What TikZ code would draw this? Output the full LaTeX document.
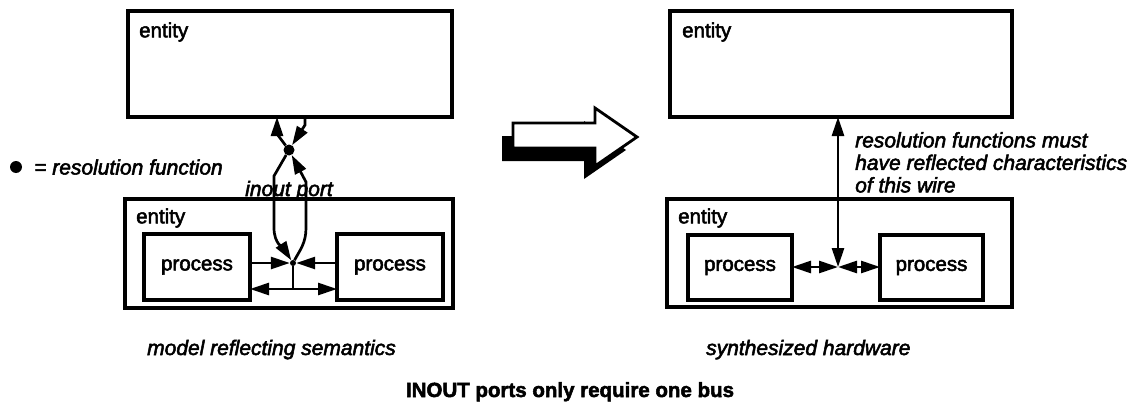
\documentclass[tikz,border=0pt]{standalone}
\usepackage{fontspec}
\setmainfont{Liberation Sans}[FakeBold=2.5]
\usetikzlibrary{arrows.meta}
\begin{document}
\begin{tikzpicture}[x=1pt,y=-1pt,
  box/.style={draw, line width=3.1pt, inner sep=0pt, outer sep=0pt},
  lbl/.style={font=\fontsize{20.5}{22}\selectfont, inner sep=0pt},
  note/.style={font=\fontsize{21}{22.5}\selectfont\itshape, inner sep=0pt, align=left},
  wire/.style={line width=2.7pt},
  tipend/.style={-{Triangle[length=19pt,width=12pt]}},
  tipboth/.style={{Triangle[length=19pt,width=12pt]}-{Triangle[length=19pt,width=12pt]}},
  resdot/.style={circle, fill, inner sep=0pt, minimum size=#1},
]
\useasboundingbox (0,0) rectangle (1139,409);

% ---------- left: model reflecting semantics ----------
\node[box, minimum width=324pt, minimum height=106pt, anchor=north west] (lTop) at (128,11) {};
\node[lbl, anchor=west] (lTopLbl) at (139,32) {entity};
\node[box, minimum width=328pt, minimum height=109pt, anchor=north west] (lBot) at (125,199) {};
\node[lbl, anchor=west] (lBotLbl) at (136,218) {entity};
\node[box, minimum width=106pt, minimum height=66pt, anchor=north west] (lp) at (144,234) {};
\node[lbl] (lpLbl) at (lp) {process};
\node[box, minimum width=106pt, minimum height=66pt, anchor=north west] (rp) at (337,234) {};
\node[lbl] (rpLbl) at (rp) {process};

% resolution points
\node[resdot=6pt] (j1) at (293,263) {};
\node[resdot=11pt] (x1) at (289,150) {};

% process outputs into the resolution point
\draw[wire, tipend] (lp.east |- j1) -- (j1);
\draw[wire, tipend] (rp.west |- j1) -- (j1);
% resolved value fed back to both processes
\coordinate (b1) at (293,289);
\draw[wire] (j1) -- (b1);
\draw[wire, tipend] (b1) -- (lp.east |- b1);
\draw[wire, tipend] (b1) -- (rp.west |- b1);

% the inout port: two directions between entities
\coordinate (t1) at (277,134);
\coordinate (t2) at (305,125);
\draw[wire, tipend] (x1) -- (t1) -- (t1 |- lTop.south);
\draw[wire, tipend] (t2 |- lTop.south) -- (t2) -- (x1);
\coordinate (pl1) at (274,176);
\coordinate (pl2) at (274,228);
\draw[wire, tipend] (x1) -- (pl1) -- (pl2) .. controls (274,244) and (284,249) .. (j1);
\coordinate (pr1) at (306,182);
\coordinate (pr2) at (306,228);
\draw[wire, tipend] (j1) .. controls (300,250) and (306,243) .. (pr2) -- (pr1) -- (x1);
\node[note, anchor=base] (portLbl) at (289,196) {inout port};

% legend
\node[resdot=12pt] (legDot) at (16,167) {};
\node[note, anchor=west] (legLbl) at (34,167) {= resolution function};

% ---------- transformation arrow with shadow ----------
\begin{scope}[shift={(-11,13)}]
  \fill (513,123) -- (595,123) -- (595,108) -- (637,137) -- (595,166) -- (595,148) -- (513,148) -- cycle;
\end{scope}
\filldraw[fill=white, line width=2.8pt, line join=miter]
  (513,123) -- (595,123) -- (595,108) -- (637,137) -- (595,166) -- (595,148) -- (513,148) -- cycle;

% ---------- right: synthesized hardware ----------
\node[box, minimum width=342pt, minimum height=106pt, anchor=north west] (rTop) at (670,11) {};
\node[lbl, anchor=west] (rTopLbl) at (682,32) {entity};
\node[box, minimum width=345pt, minimum height=108pt, anchor=north west] (rBot) at (667,199) {};
\node[lbl, anchor=west] (rBotLbl) at (678,218) {entity};
\node[box, minimum width=104pt, minimum height=65pt, anchor=north west] (lp2) at (688,235) {};
\node[lbl] (lp2Lbl) at (lp2) {process};
\node[box, minimum width=103pt, minimum height=65pt, anchor=north west] (rp2) at (880,235) {};
\node[lbl] (rp2Lbl) at (rp2) {process};

\coordinate (j2) at (838,267);
\draw[wire, tipboth] (j2 |- rTop.south) -- (j2);
\draw[wire, tipboth] (lp2.east |- j2) -- (j2);
\draw[wire, tipboth] (j2) -- (rp2.west |- j2);
\node[note, anchor=north west] (wireLbl) at (855,132)
  {resolution functions must\\have reflected characteristics\\of this wire};

% ---------- captions ----------
\node[note, anchor=base west] (capL) at (147,355) {model reflecting semantics};
\node[note, anchor=base west] (capR) at (706,355) {synthesized hardware};
\node[lbl, font=\fontsize{20.5}{22}\selectfont\bfseries, anchor=base] (title) at (570,397)
  {INOUT ports only require one bus};
\end{tikzpicture}
\end{document}
